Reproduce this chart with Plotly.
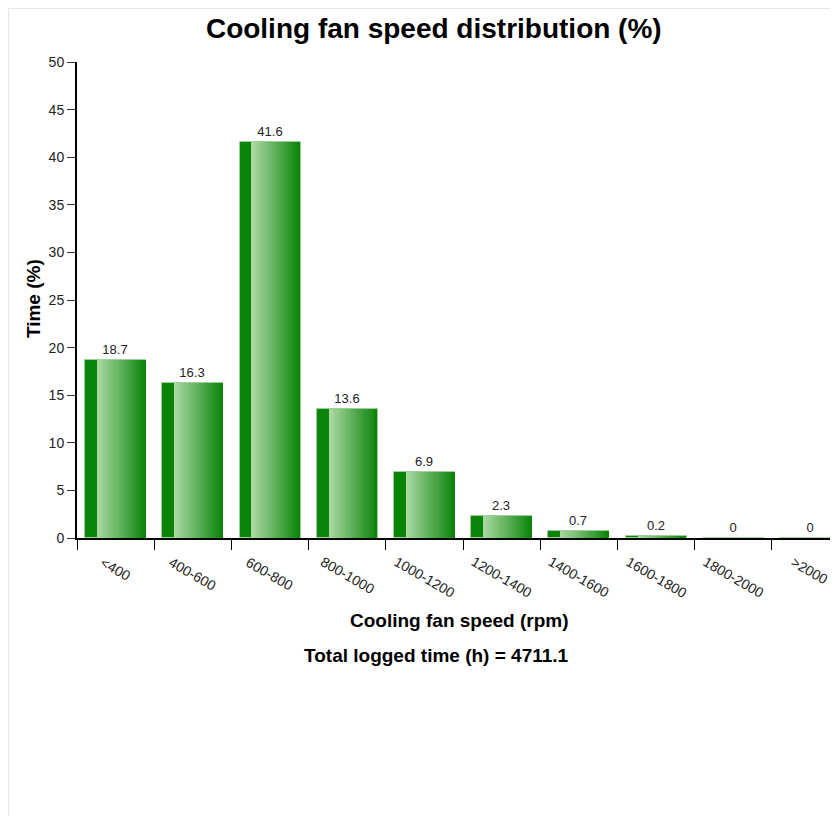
import plotly.graph_objects as go

# Data
categories = ["<400", "400-600", "600-800", "800-1000", "1000-1200",
              "1200-1400", "1400-1600", "1600-1800", "1800-2000", ">2000"]
time_pct = [18.7, 16.3, 41.6, 13.6, 6.9, 2.3, 0.7, 0.2, 0, 0]
total_hours = 4711.1

FONT = "Arial, Liberation Sans, sans-serif"
DARK = (10, 133, 10)
LIGHT = (170, 216, 162)

fig = go.Figure()

# base bar (dark strip on the left + value labels)
fig.add_trace(go.Bar(
    x=categories, y=time_pct,
    width=0.79, offset=-0.395,
    marker=dict(color="rgb(10,133,10)", line=dict(color="#9fd09a", width=1)),
    text=[f"{v:g}" for v in time_pct],
    textposition="outside",
    textfont=dict(family=FONT, size=13, color="#222"),
    cliponaxis=False,
    hoverinfo="skip",
))

# fake horizontal gradient: light -> dark strips laid over the base bar
n_strips = 24
g_start, g_end = -0.24, 0.395
step = (g_end - g_start) / n_strips
for k in range(n_strips):
    t = k / (n_strips - 1)
    c = tuple(round(LIGHT[i] + (DARK[i] - LIGHT[i]) * t) for i in range(3))
    off = g_start + k * step
    fig.add_trace(go.Bar(
        x=categories, y=time_pct,
        width=g_end - off - 0.004, offset=off,
        marker=dict(color=f"rgb{c}", line=dict(width=0)),
        hoverinfo="skip",
    ))

# rotated category labels, centred on each category
annotations = [
    dict(x=cat, y=-0.027, xref="x", yref="paper", text=cat, textangle=30,
         showarrow=False, xanchor="center", yanchor="top",
         font=dict(family=FONT, size=14, color="#222"))
    for cat in categories
]
annotations += [
    dict(x=0.503, y=-0.174, xref="paper", yref="paper",
         text="Cooling fan speed (rpm)", showarrow=False,
         xanchor="center", yanchor="middle",
         font=dict(family=FONT, size=19, color="black", weight="bold")),
    dict(x=0.472, y=-0.246, xref="paper", yref="paper",
         text=f"Total logged time (h) = {total_hours}", showarrow=False,
         xanchor="center", yanchor="middle",
         font=dict(family=FONT, size=19, color="black", weight="bold")),
    dict(x=-0.0578, y=0.502, xref="paper", yref="paper", text="Time (%)",
         textangle=-90, showarrow=False, xanchor="center", yanchor="middle",
         font=dict(family=FONT, size=19, color="black", weight="bold")),
]

fig.update_layout(
    width=830, height=808,
    margin=dict(l=69, r=0, t=54, b=278),
    barmode="overlay",
    bargap=0,
    showlegend=False,
    plot_bgcolor="white",
    paper_bgcolor="white",
    font=dict(family=FONT, size=13, color="#222"),
    title=dict(text="Cooling fan speed distribution (%)", x=0.513, xanchor="center",
               y=0.975, yanchor="middle",
               font=dict(family=FONT, size=28, color="black", weight="bold")),
    annotations=annotations,
    shapes=[dict(type="rect", xref="paper", yref="paper",
                 x0=-0.09, y0=-0.6, x1=1.2, y1=1.1124,
                 line=dict(color="#e6e6e6", width=1), layer="below")],
)

fig.update_xaxes(
    type="category", range=[-0.5, 9.357],
    showline=True, linecolor="black", linewidth=2,
    ticks="outside", tickson="boundaries", ticklen=10, tickcolor="black", tickwidth=1,
    showticklabels=False, showgrid=False, zeroline=False, automargin=False,
)
fig.update_yaxes(
    range=[0, 50], dtick=5,
    showline=True, linecolor="black", linewidth=2,
    ticks="outside", ticklen=8, tickcolor="#333", tickwidth=1,
    tickfont=dict(family=FONT, size=14, color="#222"),
    showgrid=False, zeroline=False, automargin=False,
)

fig.write_html("out.html")
